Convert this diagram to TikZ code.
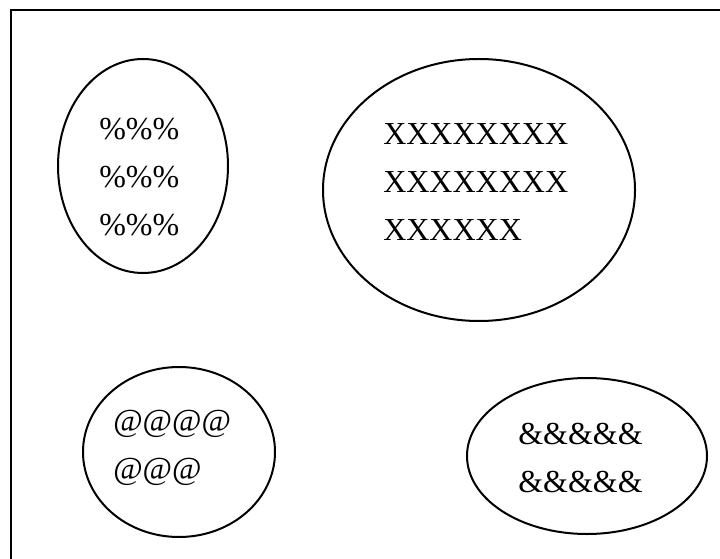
\documentclass[tikz,border=0pt]{standalone}
\usepackage{fontspec}
\setmainfont{Liberation Serif}
\usetikzlibrary{shapes.geometric}

\begin{document}
\begin{tikzpicture}[x=0.75pt,y=-0.75pt,
  blob/.style={draw,ellipse,line width=1.5pt,inner sep=0pt},
  txt/.style={anchor=north west,inner sep=0pt,align=left,
              font=\rmfamily\fontsize{24}{36}\selectfont}]
\useasboundingbox (0,0) rectangle (720,559);
% open frame, cut by the page edge
\draw[line width=1.8pt] (721,10) -- (11,10) -- (11,560);
% the four ellipses
\node[blob,minimum width=127.5pt,minimum height=160.5pt] (pct) at (143,166) {};
\node[blob,minimum width=234pt,minimum height=196.5pt] (xx) at (479,190) {};
\node[blob,minimum width=144pt,minimum height=127.5pt] (at) at (179,452) {};
\node[blob,minimum width=180pt,minimum height=117pt] (amp) at (587,456) {};
% their texts
\node[txt] (pcttext) at (99,118) {\%\%\%\\\%\%\%\\\%\%\%};
\node[txt] (xxtext) at (383,123) {XXXXXXXX\\XXXXXXXX\\XXXXXX};
\node[txt] (attext) at (113,410) {@@@@\\@@@};
\node[txt] (amptext) at (518,423) {\&\&\&\&\&\\\&\&\&\&\&};
\end{tikzpicture}
\end{document}
